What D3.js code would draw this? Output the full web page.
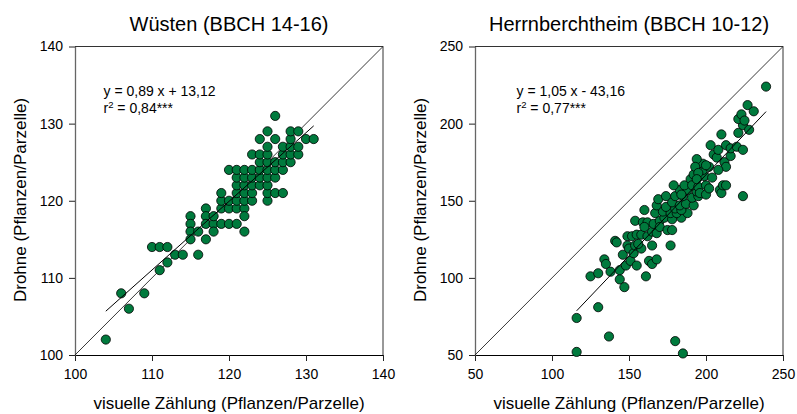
<!DOCTYPE html>
<html><head><meta charset="utf-8">
<script src="https://cdn.jsdelivr.net/npm/d3@7/dist/d3.min.js"></script>
<style>
body{margin:0;background:#fff;}
svg text{font-family:"Liberation Sans",Arial,sans-serif;fill:#000;}
</style></head>
<body>
<svg id="c" width="797" height="414"></svg>
<script>
// ---- data ----
const titles = ["Wüsten (BBCH 14-16)", "Herrnberchtheim (BBCH 10-12)"];
const xTitle = "visuelle Zählung (Pflanzen/Parzelle)";
const yTitle = "Drohne (Pflanzen/Parzelle)";
const ticksLeft = [100, 110, 120, 130, 140];
const ticksRight = [50, 100, 150, 200, 250];
const eqLeft = ["y = 0,89 x + 13,12", "0,84***"];
const eqRight = ["y = 1,05 x - 43,16", "0,77***"];
const fitLeft = {slope: 0.89, intercept: 13.12};
const fitRight = {slope: 1.05, intercept: -43.16};

const pointsLeft = [
 [104,102],[106,108],[107,106],[109,108],[110,114],[111,114],[112,114],[111,111],[112,112],
 [113,113],[114,113],[116,113],[115,118],[115,117],[115,116],[115,115],[116,116],[117,115],
 [117,119],[117,118],[117,117],[118,117],[118,116],[118,118],
 [119,119],[120,119],[121,119],[122,119],[122,118],[119,117],[120,117],[121,117],[122,116],
 [119,120],[120,120],[121,120],[122,120],[123,120],[125,120],
 [119,121],[121,121],[122,121],[123,121],[125,121],[126,121],[127,121],
 [121,122],[122,122],[123,122],[124,122],[125,122],
 [121,123],[122,123],[123,123],[124,123],[125,123],[126,123],
 [120,124],[121,124],[122,124],[123,124],[124,124],[125,124],[126,124],[127,124],
 [124,125],[125,125],[126,125],[127,125],[128,125],
 [123,126],[124,126],[125,126],[127,126],[128,126],[129,126],
 [125,127],[127,127],[128,127],[129,127],
 [124,128],[126,128],[128,128],[130,128],[131,128],
 [125,129],[128,129],[129,129],[126,131]
];

const pointsRight = [
 [116,52],[116,74],[130,81],[137,62],[180,59],[185,51],[224,153],[239,224],
 [125,101],[130,103],[134,112],[135,109],[138,104],[144,105],[144,99],[147,94],[141,124],[142,123],
 [146,115],[148,108],[151,111],[155,108],[161,101],[163,111],[165,109],[168,112],
 [149,127],[149,121],[152,127],[155,128],[150,119],[153,116],[154,121],[158,119],[165,121],[177,121],
 [158,128],[162,127],[165,130],[168,129],
 [154,137],[159,136],[162,136],[166,135],[170,137],[173,139],[178,138],[184,139],
 [160,133],[170,133],[175,131],[178,131],[156,122],
 [160,144],[167,142],[172,143],[177,142],[181,142],[188,142],
 [168,147],[174,146],[180,145],[184,144],
 [169,151],[178,149],[183,147],[187,148],[192,147],
 [174,153],[180,153],[185,153],[191,152],[195,153],
 [183,157],[188,157],[194,156],
 [179,160],[186,160],[190,164],[191,160],[195,159],[200,160],
 [184,154],[196,155],[200,154],[209,157],[210,155],[211,160],[213,160],
 [192,167],[196,166],[199,166],[204,165],[195,171],[198,170],[202,172],[198,174],[200,173],
 [212,175],[213,172],[194,177],[216,179],[205,180],[207,178],[208,183],[213,186],[216,184],
 [220,185],[224,183],[203,186],[210,193],[221,194],[224,199],[228,196],[221,203],[223,206],
 [225,202],[227,212],[231,208],[193,172],[195,168],[194,164],[208,170],[202,158]
];

// ---- drawing ----
const svg = d3.select("#c");
const plotTop = 46.5, plotBottom = 355;
const panels = [
  {x0: 75, x1: 383, ticks: ticksLeft, pts: pointsLeft, fit: fitLeft, eq: eqLeft, title: titles[0], yt: 25.5, eqdx: 28.5},
  {x0: 475, x1: 783, ticks: ticksRight, pts: pointsRight, fit: fitRight, eq: eqRight, title: titles[1], yt: 425.5, eqdx: 41.5}
];

panels.forEach(p => {
  const dom = d3.extent(p.ticks);
  const x = d3.scaleLinear().domain(dom).range([p.x0, p.x1]);
  const y = d3.scaleLinear().domain(dom).range([plotBottom, plotTop]);
  const g = svg.append("g");

  // frame (top & right)
  g.append("path")
    .attr("d", `M${p.x0},${plotTop}H${p.x1}V${plotBottom}`)
    .attr("fill", "none").attr("stroke", "#333").attr("stroke-width", 1);

  // x axis
  const ax = g.append("g").attr("transform", `translate(0,${plotBottom})`)
    .call(d3.axisBottom(x).tickValues(p.ticks).tickSize(6).tickPadding(8).tickSizeOuter(0));
  ax.select(".domain").attr("stroke", "#000");
  ax.selectAll("text").style("font-size", "14px").attr("font-family", null);

  // y axis
  const ay = g.append("g").attr("transform", `translate(${p.x0},0)`)
    .call(d3.axisLeft(y).tickValues(p.ticks).tickSize(6).tickPadding(6).tickSizeOuter(0));
  ay.select(".domain").attr("stroke", "#666").attr("stroke-width", 1.3);
  ay.selectAll("text").style("font-size", "14px").attr("font-family", null);
  g.selectAll(".tick line").attr("stroke", "#222");

  // 1:1 line
  g.append("line")
    .attr("x1", x(dom[0])).attr("y1", y(dom[0]))
    .attr("x2", x(dom[1])).attr("y2", y(dom[1]))
    .attr("stroke", "#222").attr("stroke-width", 0.9);

  // points
  g.append("g").selectAll("circle").data(p.pts).join("circle")
    .attr("cx", d => x(d[0])).attr("cy", d => y(d[1])).attr("r", 4.6)
    .attr("fill", "#007a3d").attr("stroke", "#000").attr("stroke-width", 0.8);

  // regression line
  const xe = d3.extent(p.pts, d => d[0]);
  g.append("line")
    .attr("x1", x(xe[0])).attr("y1", y(p.fit.slope * xe[0] + p.fit.intercept))
    .attr("x2", x(xe[1])).attr("y2", y(p.fit.slope * xe[1] + p.fit.intercept))
    .attr("stroke", "#000").attr("stroke-width", 1);

  // equation
  const ex = p.x0 + p.eqdx;
  g.append("text").attr("x", ex).attr("y", 95.5).style("font-size", "14px").text(p.eq[0]);
  const t2 = g.append("text").attr("x", ex).attr("y", 112.5).style("font-size", "14px");
  t2.append("tspan").text("r");
  t2.append("tspan").attr("dy", -4.5).style("font-size", "9.5px").text("2");
  t2.append("tspan").attr("dy", 4.5).text(" = " + p.eq[1]);

  // titles
  g.append("text").attr("x", (p.x0 + p.x1) / 2).attr("y", 31).attr("text-anchor", "middle")
    .style("font-size", "20px").text(p.title);
  g.append("text").attr("x", (p.x0 + p.x1) / 2).attr("y", 409).attr("text-anchor", "middle")
    .style("font-size", "17px").text(xTitle);
  g.append("text").attr("transform", `translate(${p.yt},200) rotate(-90)`).attr("text-anchor", "middle")
    .style("font-size", "17px").text(yTitle);
});
</script>
</body></html>
